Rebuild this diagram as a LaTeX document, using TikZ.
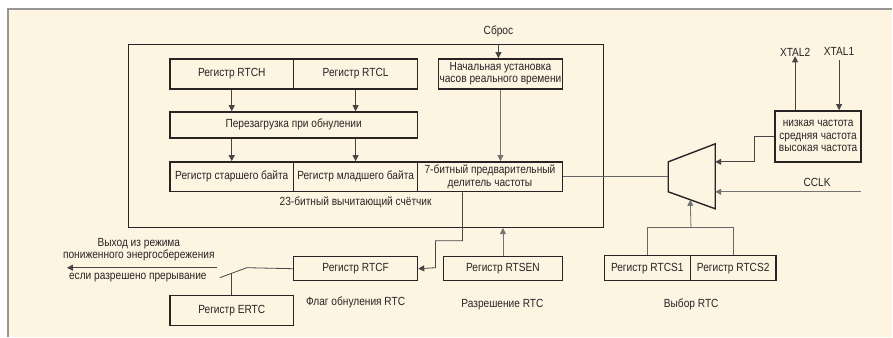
\documentclass[tikz,border=0pt]{standalone}
\usepackage{fontspec}
\setmainfont{Liberation Sans}[FakeStretch=0.86]
\usetikzlibrary{arrows.meta}
\definecolor{cream}{RGB}{253,244,226}
\definecolor{ink}{RGB}{40,36,36}
\definecolor{rim}{RGB}{150,150,150}

\begin{document}
\begin{tikzpicture}[
  x=1pt, y=-1pt,
  font=\fontsize{11.8}{12.5}\selectfont, text=ink,
  reg/.style={
    rectangle, draw=ink, line width=1.4pt, fill=cream,
    minimum width=124pt, minimum height=30pt, inner sep=1pt, align=center
  },
  lbl/.style={align=center, inner sep=0pt},
  wire/.style={ink!85, line width=0.8pt},
  arrow/.style={wire, -{Triangle[length=6pt,width=6pt]}},
  garrow/.style={arrow, black!55},
]

% background and rim
\fill[white] (0,0) rectangle (893,337);
\fill[cream] (8,9) rectangle (893,337);
\draw[rim, line width=2pt] (8.3,337) -- (8.3,9.2) -- (893,9.2);

% 23-bit counter frame
\node[draw=ink, line width=0.7pt, minimum width=476pt, minimum height=184pt, inner sep=0pt]
  (counter) at (366,136) {};
\node[lbl] (counterlbl) at (356,203) {23-битный вычитающий счётчик};

% upper registers
\node[reg] (rtch) at (232,74) {Регистр RTCH};
\node[reg] (rtcl) at (356,74) {Регистр RTCL};
\node[reg] (init) at (501,74) {Начальная установка\\часов реального времени};
\node[lbl] (reset) at (499,31) {Сброс};

% reload
\node[reg, minimum width=248pt, minimum height=26pt] (reload) at (294,125)
  {Перезагрузка при обнулении};

% counter bytes and prescaler
\node[reg] (hibyte) at (232,177) {Регистр старшего байта};
\node[reg] (lobyte) at (356,177) {Регистр младшего байта};
\node[reg, minimum width=145pt] (presc) at (490.5,177)
  {7-битный предварительный\\делитель частоты};

% oscillator select
\node[reg, minimum width=86pt, minimum height=51pt] (freq) at (819,136.5)
  {низкая частота\\средняя частота\\высокая частота};
\node[lbl] (xtaltwo) at (796,52) {XTAL2};
\node[lbl] (xtalone) at (840,52) {XTAL1};
\node[lbl] (cclk) at (818,183) {CCLK};
\coordinate (cclkin) at (862,192);

% multiplexer
\draw[ink, line width=1.4pt, fill=cream] (669,162) -- (716,144) -- (716,209) -- (669,192) -- cycle;
\coordinate (muxin) at (669,177);
\coordinate (muxa) at (716,162);
\coordinate (muxb) at (716,192);
\coordinate (muxsel) at (691,200);

% select registers
\node[reg, minimum width=86pt, minimum height=25pt] (rtcsone) at (648,268.5) {Регистр RTCS1};
\node[reg, minimum width=86pt, minimum height=25pt] (rtcstwo) at (734,268.5) {Регистр RTCS2};
\node[lbl] (sellbl) at (692,305) {Выбор RTC};

% flag, enable, interrupt
\node[reg, minimum height=24pt] (rtcf) at (356,269) {Регистр RTCF};
\node[reg, minimum width=119pt, minimum height=24pt] (rtsen) at (503.5,269) {Регистр RTSEN};
\node[reg] (ertc) at (232,311) {Регистр ERTC};
\node[lbl] (flaglbl) at (356,303) {Флаг обнуления RTC};
\node[lbl] (enlbl) at (503,305) {Разрешение RTC};
\node[lbl] (wakelbl) at (139,250) {Выход из режима\\пониженного энергосбережения};
\node[lbl] (irqlbl) at (138,278) {если разрешено прерывание};

% switch
\coordinate (swa) at (247,268);
\coordinate (swb) at (220,278);
\coordinate (swpin) at (232,273.6);
\coordinate (wakefrom) at (217,268);
\coordinate (waketo) at (67,268);

% flows
\draw[arrow] (reset.south |- counter.north) -- (init.north -| reset.south);
\draw[arrow] (rtch) -- (reload.north -| rtch);
\draw[arrow] (rtcl) -- (reload.north -| rtcl);
\draw[arrow] (reload.south -| hibyte) -- (hibyte);
\draw[arrow] (reload.south -| lobyte) -- (lobyte);
\draw[garrow] (init) -- (presc.north -| init);

\draw[wire, black!60] (presc.east) -- (muxin);
\draw[arrow] (freq.west) -- ++(-20,0) |- (muxa);
\draw[arrow] (freq.north -| xtaltwo) -- (xtaltwo.south);
\draw[arrow] (xtalone.south) ++(0,4) -- (freq.north -| xtalone);
\draw[garrow] (cclkin) -- (muxb);

\draw[wire, black!60] (rtcsone.north) -- ++(0,-28) -| (rtcstwo.north);
\draw[garrow] (rtcsone.north east) ++(0,-28) -- (muxsel);

\draw[arrow] (presc.south -| 463,0) -- (463,241) -| (436,268) -- (rtcf.east);
\draw[garrow] (rtsen) -- (counter.south -| rtsen);

\draw[wire] (rtcf.west) -- (swa) -- (swb);
\draw[wire] (ertc.north) -- (swpin);
\draw[arrow] (wakefrom) -- (waketo);

\end{tikzpicture}
\end{document}
